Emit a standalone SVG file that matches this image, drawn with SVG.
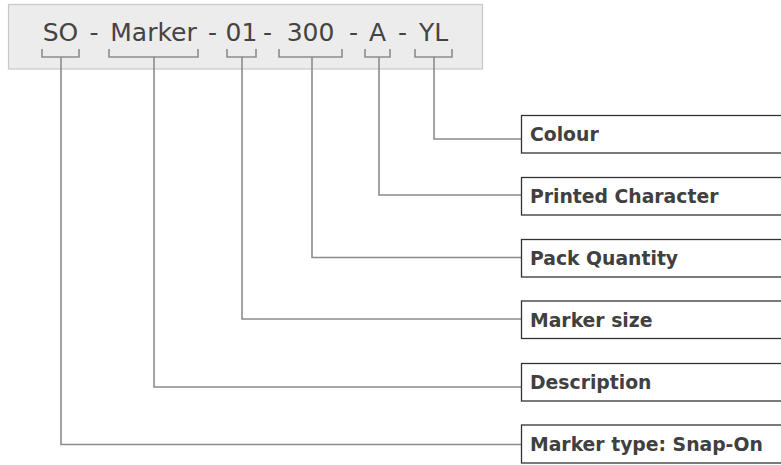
<svg xmlns="http://www.w3.org/2000/svg" width="781" height="465" viewBox="0 0 781 465">
<style>
.code{font-family:"DejaVu Sans",sans-serif;font-size:25px;fill:#444;}
.lbl{font-family:"DejaVu Sans",sans-serif;font-weight:bold;font-size:18.8px;fill:#404040;}
.box{fill:#fff;stroke:#333;stroke-width:1.3;}
.ln{fill:none;stroke:#8c8c8c;stroke-width:1.6;}
</style>
<rect width="781" height="465" fill="#fff"/>
<g id="code">
<rect x="8.5" y="4.5" width="474" height="64.5" fill="#ececec" stroke="#c8c8c8" stroke-width="1.2"/>
<text class="code" y="41" text-anchor="middle" xml:space="preserve"><tspan x="60.5">SO</tspan><tspan x="94"> - </tspan><tspan x="153.5">Marker</tspan><tspan x="212.5"> - </tspan><tspan x="241.5">01</tspan><tspan x="267.5"> - </tspan><tspan x="310.5">300</tspan><tspan x="353.5"> - </tspan><tspan x="377.5">A</tspan><tspan x="402.5"> - </tspan><tspan x="433.5">YL</tspan></text>
</g>
<g id="connectors" class="ln">
<path d="M42 49V57H79V49M61 57V444.5H521.5"/>
<path d="M109 49V57H198V49M154 57V387H521.5"/>
<path d="M227 49V57H256V49M242 57V319H521.5"/>
<path d="M279 49V57H342V49M312 57V257.5H521.5"/>
<path d="M365 49V57H390V49M379 57V195H521.5"/>
<path d="M415 49V57H452V49M434 57V139H521.5"/>
</g>
<g id="colour"><rect class="box" x="521.5" y="115.5" width="270" height="37.5"/><text class="lbl" x="530" y="141">Colour</text></g>
<g id="printed-character"><rect class="box" x="521.5" y="177.5" width="270" height="37.5"/><text class="lbl" x="530" y="203">Printed Character</text></g>
<g id="pack-quantity"><rect class="box" x="521.5" y="239.5" width="270" height="37.5"/><text class="lbl" x="530" y="265">Pack Quantity</text></g>
<g id="marker-size"><rect class="box" x="521.5" y="301" width="270" height="37.5"/><text class="lbl" x="530" y="327">Marker size</text></g>
<g id="description"><rect class="box" x="521.5" y="363.5" width="270" height="37.5"/><text class="lbl" x="530" y="389">Description</text></g>
<g id="marker-type"><rect class="box" x="521.5" y="425" width="270" height="38"/><text class="lbl" x="530" y="450.5">Marker type: Snap-On</text></g>
</svg>
